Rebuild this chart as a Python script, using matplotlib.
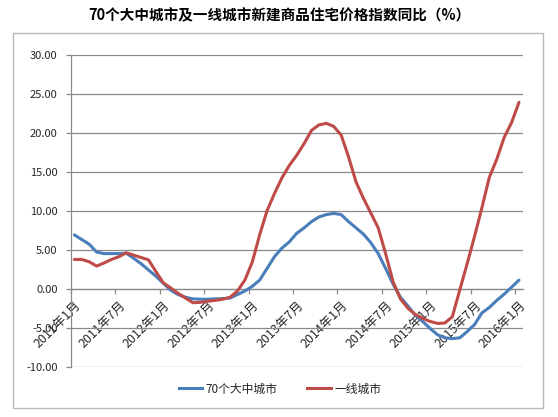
import numpy as np
import matplotlib
matplotlib.use("Agg")
import matplotlib.pyplot as plt
from matplotlib.patches import Rectangle
from matplotlib.lines import Line2D

plt.rcParams['font.family'] = ['Noto Sans CJK SC', 'DejaVu Sans']

title = "70个大中城市及一线城市新建商品住宅价格指数同比（%）"
series_names = ["70个大中城市", "一线城市"]

# monthly categories 2011-01 .. 2016-01
months = [f"{y}年{m}月" for y in range(2011, 2017) for m in range(1, 13)][:61]
tick_labels = ["2011年1月", "2011年7月", "2012年1月", "2012年7月", "2013年1月",
               "2013年7月", "2014年1月", "2014年7月", "2015年1月", "2015年7月",
               "2016年1月"]

city70 = [6.9, 6.3, 5.7, 4.7, 4.5, 4.5, 4.5, 4.55, 3.9, 3.2,
          2.4, 1.6, 0.7, -0.2, -0.75, -1.1, -1.3, -1.35, -1.35, -1.3,
          -1.27, -1.2, -0.75, -0.3, 0.3, 1.1, 2.6, 4.1, 5.2, 6.0,
          7.1, 7.8, 8.6, 9.2, 9.5, 9.65, 9.5, 8.6, 7.8, 7.0,
          5.9, 4.5, 2.6, 0.6, -1.1, -2.2, -3.4, -4.2, -5.1, -5.9,
          -6.3, -6.4, -6.3, -5.5, -4.6, -3.1, -2.4, -1.5, -0.7, 0.2,
          1.1]

tier1 = [3.75, 3.75, 3.45, 2.9, 3.3, 3.75, 4.1, 4.6, 4.3, 4.0,
         3.7, 2.2, 0.75, 0.1, -0.6, -1.2, -1.8, -1.75, -1.6, -1.5,
         -1.35, -1.1, -0.3, 1.1, 3.4, 6.9, 10.0, 12.2, 14.2, 15.8,
         17.1, 18.6, 20.3, 21.0, 21.2, 20.8, 19.7, 16.9, 13.7, 11.6,
         9.7, 7.8, 4.5, 0.9, -1.3, -2.5, -3.3, -3.8, -4.2, -4.45,
         -4.4, -3.6, -0.2, 3.2, 6.7, 10.4, 14.3, 16.6, 19.4, 21.3,
         23.9]

blue = '#4a7ebb'
red = '#be4b48'
grid_c = '#8a8a8a'
text_c = '#262626'

fig = plt.figure(figsize=(5.58, 4.17), dpi=100)
W, H = 558, 417
fig.patches.append(Rectangle((12.7 / W, 1 - 408.3 / H), 530 / W, 375 / H,
                             transform=fig.transFigure, fill=False,
                             edgecolor='#b8b8b8', lw=1.0))

ax = fig.add_axes([70.7 / W, 1 - 366.7 / H, (522.7 - 70.7) / W, (366.7 - 54.7) / H])
x = np.arange(len(months))
ax.plot(x, city70, color=blue, lw=2.2, solid_joinstyle='round', solid_capstyle='round', zorder=3)
ax.plot(x, tier1, color=red, lw=2.2, solid_joinstyle='round', solid_capstyle='round', zorder=3)

ax.set_xlim(-0.5, len(months) - 0.5)
ax.set_ylim(-10, 30)
ax.set_yticks(np.arange(-10, 31, 5))
ax.set_yticklabels([f"{v:.2f}" for v in np.arange(-10, 31, 5)], fontsize=8, color=text_c)
ax.yaxis.grid(True, color=grid_c, lw=0.9)
ax.set_axisbelow(True)

for s in ['top', 'right']:
    ax.spines[s].set_visible(False)
ax.spines['left'].set_color(grid_c)
ax.spines['left'].set_linewidth(0.9)
ax.spines['bottom'].set_position(('data', 0))
ax.spines['bottom'].set_color(grid_c)
ax.spines['bottom'].set_linewidth(0.9)

ax.tick_params(axis='y', length=3.5, color=grid_c, width=0.9, pad=6)
ax.set_xticks(np.arange(-0.5, len(months) - 0.5, 6))
ax.set_xticklabels([])
ax.tick_params(axis='x', which='major', length=3.5, color=grid_c, width=0.9)
ax.set_xticks(np.arange(0, len(months), 6), minor=True)
ax.set_xticklabels(tick_labels, minor=True, rotation=45, ha='right', va='top',
                   rotation_mode='anchor', fontsize=9, color=text_c)
ax.tick_params(axis='x', which='minor', length=0, pad=7)

fig.text(0.5, 1 - 15 / H, title, ha='center', va='center', fontsize=10.5,
         fontweight='bold', color='black')

handles = [Line2D([], [], color=blue, lw=2.2), Line2D([], [], color=red, lw=2.2)]
fig.legend(handles, series_names, loc='center', bbox_to_anchor=(280 / W, 1 - 389 / H),
           ncol=2, frameon=False, fontsize=8.5, handlelength=2.0, columnspacing=2.5,
           handletextpad=0.3, labelcolor=text_c)

fig.savefig("out.png", dpi=100)
